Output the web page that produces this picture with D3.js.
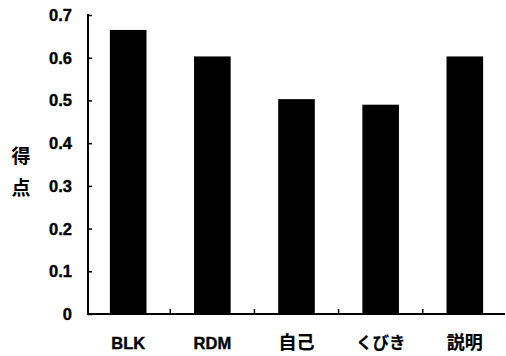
<!DOCTYPE html>
<html><head><meta charset="utf-8">
<script src="https://cdn.jsdelivr.net/npm/d3@7/dist/d3.min.js"></script>
<style>body{margin:0;background:#fff}svg{display:block}</style>
</head><body>
<svg id="c" width="506" height="356"></svg>
<script>
const categories = ["BLK", "RDM", "自己", "くびき", "説明"];
const scores = [0.665, 0.603, 0.503, 0.49, 0.603];
const yTicks = [0, 0.1, 0.2, 0.3, 0.4, 0.5, 0.6, 0.7];
const yLabelChars = ["得", "点"];

const svg = d3.select("#c");
const x0 = 88, x1 = 505, yBase = 314, yTop = 15;
const x = d3.scaleBand().domain(categories).range([x0, x1]).paddingInner(0.565).paddingOuter(0.26);
const y = d3.scaleLinear().domain([0, 0.7]).range([yBase, yTop]);
const font = "'Liberation Sans','Noto Sans CJK JP',Arial,sans-serif";
const isLatin = s => /^[A-Za-z]+$/.test(s);

svg.selectAll("rect.bar").data(categories).enter().append("rect")
  .attr("x", d => x(d)).attr("width", x.bandwidth())
  .attr("y", (d, i) => y(scores[i])).attr("height", (d, i) => yBase - y(scores[i]))
  .attr("fill", "#000");

// y axis
const ya = d3.axisRight(y).tickValues(yTicks).tickSize(4).tickFormat("");
const gy = svg.append("g").attr("transform", `translate(${x0},0)`).call(ya);
gy.select(".domain").remove();
gy.selectAll("line").attr("stroke", "#000").attr("stroke-width", 1.5);
svg.append("line").attr("x1", x0).attr("x2", x0).attr("y1", yTop - 1).attr("y2", yBase + 1)
  .attr("stroke", "#000").attr("stroke-width", 2);
svg.selectAll("text.yt").data(yTicks).enter().append("text")
  .attr("x", 72).attr("y", d => y(d)).attr("dy", "0.36em")
  .attr("text-anchor", "end").attr("font-family", font).attr("font-weight", "bold")
  .attr("font-size", 16.5).attr("stroke", "#000").attr("stroke-width", 0.4)
  .text(d => d === 0 ? "0" : d3.format(".1f")(d));

// x axis
svg.append("line").attr("x1", x0).attr("x2", x1).attr("y1", yBase).attr("y2", yBase)
  .attr("stroke", "#000").attr("stroke-width", 2);
const bounds = categories.slice(1).map(c => x(c) - x.step() * x.paddingInner() / 2);
svg.selectAll("line.xt").data(bounds).enter().append("line")
  .attr("x1", d => d).attr("x2", d => d).attr("y1", yBase).attr("y2", yBase - 5)
  .attr("stroke", "#000").attr("stroke-width", 1.5);
svg.selectAll("text.xl").data(categories).enter().append("text")
  .attr("x", d => x(d) + x.bandwidth() / 2).attr("y", 349)
  .attr("text-anchor", "middle")
  .attr("font-family", d => isLatin(d) ? font : "'Noto Sans CJK JP',sans-serif")
  .attr("font-weight", "bold")
  .attr("font-size", d => isLatin(d) ? 16.5 : (d.length > 2 ? 16.5 : 18))
  .attr("stroke", "#000").attr("stroke-width", d => isLatin(d) ? 0.4 : 0.2)
  .text(d => d);

// y label
svg.selectAll("text.yl").data(yLabelChars).enter().append("text")
  .attr("x", 21).attr("y", (d, i) => 163 + i * 32)
  .attr("text-anchor", "middle").attr("font-family", "'Noto Sans CJK JP',sans-serif")
  .attr("font-weight", "bold").attr("font-size", 19).text(d => d);
</script>
</body></html>
